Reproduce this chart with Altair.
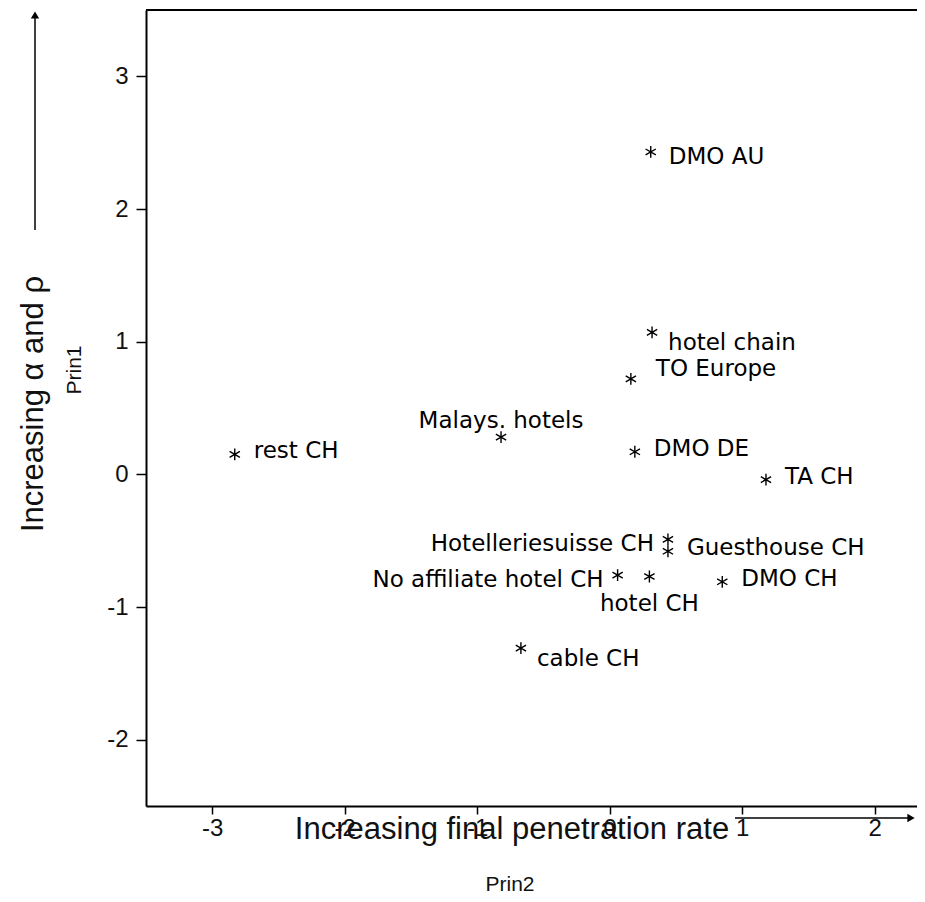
import altair as alt
import pandas as pd

# ---- data ----
names = ["DMO AU", "hotel chain", "TO Europe", "Malays. hotels", "rest CH", "DMO DE",
         "TA CH", "Guesthouse CH", "Hotelleriesuisse CH", "No affiliate hotel CH",
         "hotel CH", "DMO CH", "cable CH"]
prin2 = [0.31, 0.32, 0.16, -0.82, -2.83, 0.19, 1.18, 0.44, 0.44, 0.06, 0.30, 0.85, -0.67]
prin1 = [2.43, 1.07, 0.72, 0.28, 0.15, 0.17, -0.04, -0.58, -0.49, -0.76, -0.77, -0.81, -1.31]
placement = ["right-mid", "right-low", "right-high", "above", "right", "right", "right",
             "right", "left", "left", "below", "right", "right-low"]

x_ticks = [-3, -2, -1, 0, 1, 2]
y_ticks = [-2, -1, 0, 1, 2, 3]
x_title = "Increasing final penetration rate"
y_title = "Increasing \u03b1 and \u03c1"
x_sub = "Prin2"
y_sub = "Prin1"

df = pd.DataFrame({"name": names, "prin2": prin2, "prin1": prin1, "place": placement})

FONT = "Liberation Sans"
LFONT = "DejaVu Sans"
W, H = 771, 796

xs = alt.Scale(domain=[-3.5, 2.32], nice=False, zero=False)
ys = alt.Scale(domain=[-2.5, 3.5], nice=False, zero=False)

x_axis = alt.Axis(values=x_ticks, title=None, grid=False, tickSize=8, tickWidth=1.5,
                  tickColor="black", domainColor="black", domainWidth=2,
                  labelFontSize=24, labelColor="#111", labelPadding=2,
                  labelExpr="datum.value + ''", labelFont=FONT)
y_axis = alt.Axis(values=y_ticks, title=None, grid=False, tickSize=10, tickWidth=1.5,
                  tickColor="black", domainColor="black", domainWidth=2,
                  labelFontSize=24, labelColor="#111", labelPadding=8,
                  labelExpr="datum.value + ''", labelFont=FONT)

base = alt.Chart(df)

STAR = "M0,-1L0,1M-0.87,-0.5L0.87,0.5M-0.87,0.5L0.87,-0.5"
points = base.mark_point(shape=STAR, filled=False, stroke="black", strokeWidth=1.4,
                         size=140, opacity=1).encode(
    x=alt.X("prin2:Q", scale=xs, axis=x_axis),
    y=alt.Y("prin1:Q", scale=ys, axis=y_axis),
)

label_styles = {
    "right": dict(align="left", dx=19, dy=-3),
    "right-mid": dict(align="left", dx=18, dy=5),
    "right-low": dict(align="left", dx=16, dy=11),
    "right-high": dict(align="left", dx=25, dy=-10),
    "above": dict(align="center", dx=0, dy=-16),
    "left": dict(align="right", dx=-14, dy=5),
    "below": dict(align="center", dx=0, dy=28),
}

label_layers = []
for key, st in label_styles.items():
    label_layers.append(
        base.transform_filter(alt.datum.place == key).mark_text(
            font=LFONT, fontSize=23, color="black", baseline="middle", **st
        ).encode(x=alt.X("prin2:Q", scale=xs), y=alt.Y("prin1:Q", scale=ys), text="name:N")
    )

one = pd.DataFrame({"k": [0]})
ann = alt.Chart(one)

top_line = ann.mark_rule(color="black", strokeWidth=2).encode(
    x=alt.value(0), x2=alt.value(W), y=alt.value(0))

y_arrow = ann.mark_rule(color="black", strokeWidth=1.5).encode(
    x=alt.value(-111), y=alt.value(8), y2=alt.value(220))
y_head = ann.mark_point(shape="triangle-up", filled=True, color="black", size=70, opacity=1).encode(
    x=alt.value(-111), y=alt.value(5))

x_arrow = ann.mark_rule(color="black", strokeWidth=1.5).encode(
    x=alt.value(589), x2=alt.value(762), y=alt.value(808))
x_head = ann.mark_point(shape="triangle-right", filled=True, color="black", size=70, opacity=1).encode(
    x=alt.value(765), y=alt.value(808))

xt = ann.mark_text(font=FONT, fontSize=31, color="#111", align="center", baseline="middle").encode(
    x=alt.value(366), y=alt.value(820), text=alt.value(x_title))
xs2 = ann.mark_text(font=FONT, fontSize=21, color="#111", align="center", baseline="middle").encode(
    x=alt.value(364), y=alt.value(875), text=alt.value(x_sub))
yt = ann.mark_text(font=FONT, fontSize=31, color="#111", align="center", baseline="middle", angle=270).encode(
    x=alt.value(-112), y=alt.value(394), text=alt.value(y_title))
ys2 = ann.mark_text(font=FONT, fontSize=21, color="#111", align="center", baseline="middle", angle=270).encode(
    x=alt.value(-71), y=alt.value(360), text=alt.value(y_sub))

chart = alt.layer(
    top_line, points, *label_layers, y_arrow, y_head, x_arrow, x_head, xt, xs2, yt, ys2
).properties(
    width=W, height=H,
    autosize=alt.AutoSizeParams(type="none"),
    padding={"left": 138, "top": 2, "right": 0, "bottom": 90},
).configure_view(stroke=None).configure(background="white")

chart.save("out.html", embed_options={"renderer": "svg", "actions": False})
